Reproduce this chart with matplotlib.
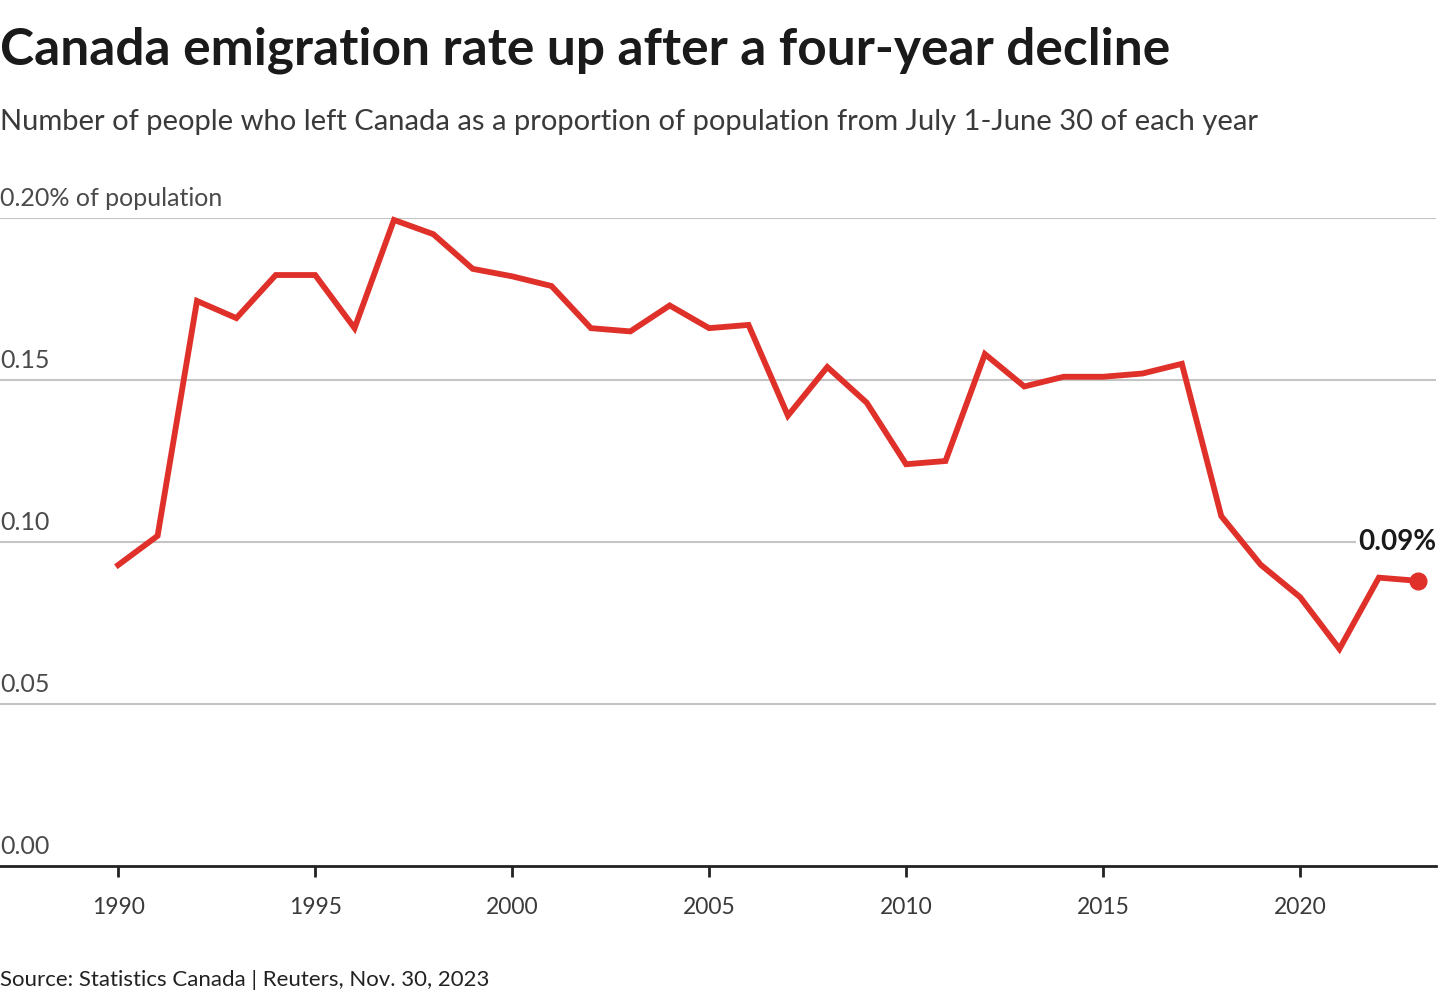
import matplotlib
matplotlib.use("Agg")
import matplotlib.pyplot as plt

years = list(range(1990, 2024))
rates = [0.0929, 0.1019, 0.1744, 0.1691, 0.1824, 0.1824, 0.166, 0.1994, 0.195, 0.1843,
         0.182, 0.179, 0.166, 0.165, 0.173, 0.166, 0.167, 0.139, 0.154, 0.143,
         0.124, 0.125, 0.158, 0.148, 0.151, 0.151, 0.152, 0.155, 0.108, 0.093,
         0.083, 0.067, 0.089, 0.088]
yticks = [0.00, 0.05, 0.10, 0.15, 0.20]
ytick_labels = ["0.00", "0.05", "0.10", "0.15", "0.20% of population"]
xticks = [1990, 1995, 2000, 2005, 2010, 2015, 2020]

title = "Canada emigration rate up after a four-year decline"
subtitle = "Number of people who left Canada as a proportion of population from July 1-June 30 of each year"
source = "Source: Statistics Canada | Reuters, Nov. 30, 2023"
end_label = "0.09%"

FONT = "Lato"
RED = "#e0302a"

fig = plt.figure(figsize=(14.4, 10), dpi=100)
ax = fig.add_axes([0.0, 0.134, 0.9972, 0.648])
ax.set_xlim(1987.0, 2023.45)
ax.set_ylim(0, 0.2)

for s in ["top", "right", "left"]:
    ax.spines[s].set_visible(False)
ax.spines["bottom"].set_linewidth(2)
ax.spines["bottom"].set_color("#222222")

for v in yticks[1:]:
    ax.axhline(v, color="#c4c4c4", lw=1.5, zorder=1)
for v, lab in zip(yticks, ytick_labels):
    ax.text(0.0, v + 0.0025, lab, transform=ax.get_yaxis_transform(), ha="left", va="bottom",
            fontsize=18, family=FONT, fontweight="normal", color="#4a4a4a")
ax.set_yticks([])

ax.set_xticks(xticks)
ax.set_xticklabels([str(x) for x in xticks], family=FONT, fontweight="normal", fontsize=16.5, color="#3a3a3a")
ax.tick_params(axis="x", length=8, width=2, color="#222222", pad=14)

ax.plot(years, rates, color=RED, lw=4.2, solid_joinstyle="miter", zorder=3, clip_on=False)
ax.plot([years[-1]], [rates[-1]], "o", color=RED, ms=12, zorder=4, clip_on=False)
ax.text(years[-1] + 0.45, 0.100, end_label, ha="right", va="center", fontsize=20,
        family=FONT, fontweight="bold", color="#1a1a1a", zorder=5,
        bbox=dict(facecolor="white", edgecolor="none", pad=1))

fig.text(0.0, 0.950, title, ha="left", va="center", fontsize=37, family=FONT,
         fontweight="bold", color="#1a1a1a")
fig.text(0.0, 0.878, subtitle, ha="left", va="center", fontsize=21, family=FONT,
         fontweight="normal", color="#3a3a3a")
fig.text(0.0, 0.020, source, ha="left", va="center", fontsize=16, family=FONT,
         color="#222222")

fig.savefig("out.png", dpi=100)
